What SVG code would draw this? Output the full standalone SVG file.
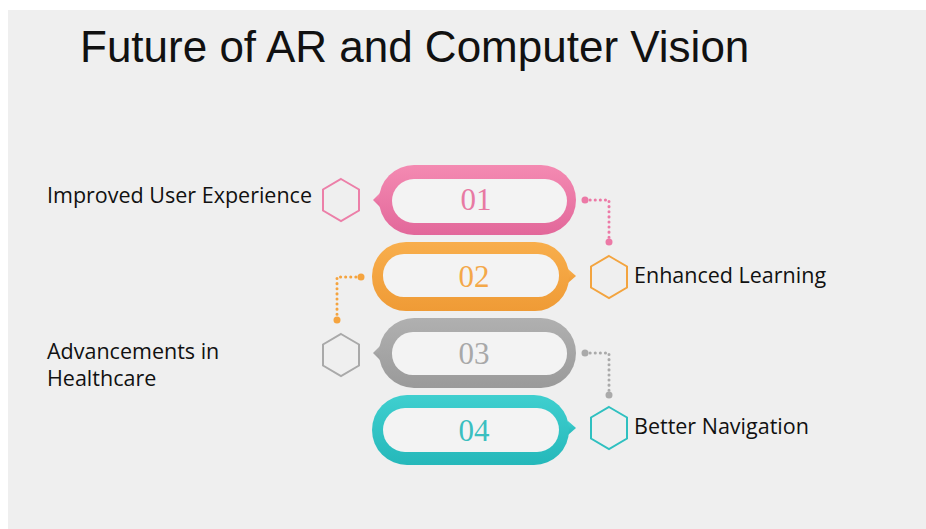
<svg xmlns="http://www.w3.org/2000/svg" width="926" height="529" viewBox="0 0 926 529">
<defs>
<linearGradient id="gPink" x1="0" y1="0" x2="0" y2="1"><stop offset="0" stop-color="#f48ab2"/><stop offset="1" stop-color="#e2679a"/></linearGradient>
<linearGradient id="gOrange" x1="0" y1="0" x2="0" y2="1"><stop offset="0" stop-color="#f8ae4c"/><stop offset="1" stop-color="#ef9b36"/></linearGradient>
<linearGradient id="gGray" x1="0" y1="0" x2="0" y2="1"><stop offset="0" stop-color="#b0b0b0"/><stop offset="1" stop-color="#9a9a9a"/></linearGradient>
<linearGradient id="gTeal" x1="0" y1="0" x2="0" y2="1"><stop offset="0" stop-color="#3fcfcf"/><stop offset="1" stop-color="#25b8ba"/></linearGradient>
</defs>
<style>
.lbl{font-family:"Open Sans","Noto Sans",sans-serif;font-size:21.5px;fill:#111}
.num{font-family:"Liberation Serif","DejaVu Serif",serif;font-size:31px;text-anchor:middle}
.inner{fill:#f3f3f3}
.hex{fill:none;stroke-width:2}
.dots{fill:none;stroke-width:3;stroke-dasharray:0.1 5;stroke-linecap:round}
</style>
<rect x="0" y="0" width="926" height="529" fill="#ffffff"/>
<rect x="8" y="10" width="918" height="519" fill="#efefef"/>
<text x="80" y="62" font-family="Liberation Sans, Arial, sans-serif" font-size="44" fill="#111">Future of AR and Computer Vision</text>

<g id="connectors">
<path class="dots" d="M585 200 H609 V242" stroke="#ec79a6"/>
<circle cx="585" cy="200" r="3.5" fill="#ec79a6"/><circle cx="609" cy="242" r="3.5" fill="#ec79a6"/>
<path class="dots" d="M361 277 H337 V320" stroke="#f5a43f"/>
<circle cx="361" cy="277" r="3.5" fill="#f5a43f"/><circle cx="337" cy="320" r="3.5" fill="#f5a43f"/>
<path class="dots" d="M585 353 H609 V395" stroke="#aaaaaa"/>
<circle cx="585" cy="353" r="3.5" fill="#aaaaaa"/><circle cx="609" cy="395" r="3.5" fill="#aaaaaa"/>
</g>

<g id="node01">
<path d="M380 193 L373 200 L380 207 Z" fill="url(#gPink)"/>
<rect x="379" y="165" width="197" height="70" rx="35" fill="url(#gPink)"/>
<rect class="inner" x="392" y="179" width="175" height="44" rx="22"/>
<text class="num" x="476" y="210" fill="#e87aa3">01</text>
<polygon class="hex" stroke="#ec7fa8" points="341,179 359,189.5 359,210.5 341,221 323,210.5 323,189.5"/>
<text class="lbl" x="47" y="203">Improved User Experience</text>
</g>

<g id="node02">
<path d="M568 269 L576 276 L568 283 Z" fill="url(#gOrange)"/>
<rect x="372" y="242" width="197" height="69" rx="34" fill="url(#gOrange)"/>
<rect class="inner" x="383" y="254" width="176" height="43" rx="21"/>
<text class="num" x="474" y="287" fill="#f3a849">02</text>
<polygon class="hex" stroke="#f3a43f" points="609,256 627,266.5 627,287.5 609,298 591,287.5 591,266.5"/>
<text class="lbl" x="634" y="283">Enhanced Learning</text>
</g>

<g id="node03">
<path d="M380 346 L373 353 L380 360 Z" fill="url(#gGray)"/>
<rect x="379" y="318" width="197" height="70" rx="35" fill="url(#gGray)"/>
<rect class="inner" x="392" y="332" width="175" height="43" rx="21"/>
<text class="num" x="474" y="364" fill="#a8a8a8">03</text>
<polygon class="hex" stroke="#a9a9a9" points="341,334 359,344.5 359,365.5 341,376 323,365.5 323,344.5"/>
<text class="lbl" x="47" y="359">Advancements in</text>
<text class="lbl" x="47" y="386">Healthcare</text>
</g>

<g id="node04">
<path d="M568 421 L576 428 L568 435 Z" fill="url(#gTeal)"/>
<rect x="372" y="395" width="197" height="70" rx="35" fill="url(#gTeal)"/>
<rect class="inner" x="383" y="408" width="176" height="44" rx="22"/>
<text class="num" x="474" y="441" fill="#3bbfc0">04</text>
<polygon class="hex" stroke="#2fc0c0" points="609,407 627,417.5 627,438.5 609,449 591,438.5 591,417.5"/>
<text class="lbl" x="634" y="434">Better Navigation</text>
</g>
</svg>
